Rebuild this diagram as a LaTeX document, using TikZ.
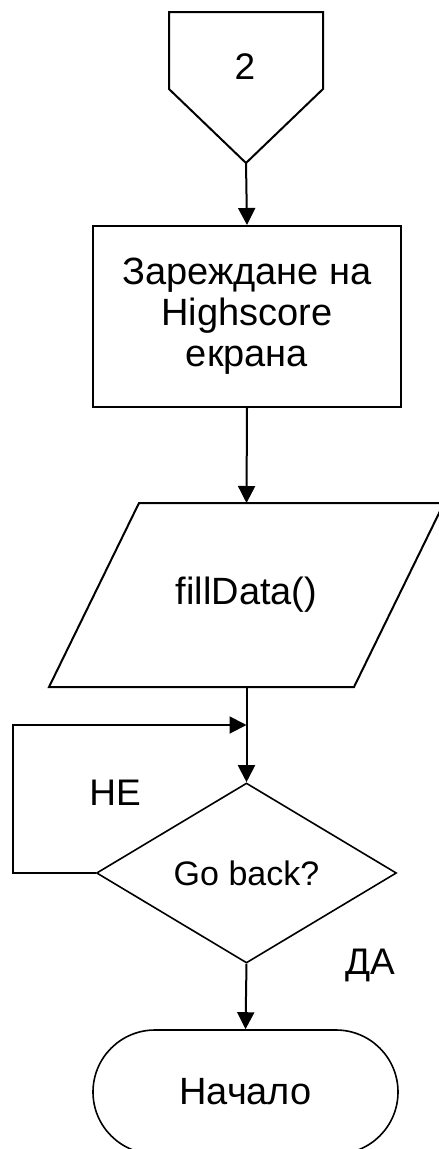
\documentclass[tikz,border=0pt]{standalone}
\usepackage{fontspec}
\setmainfont{Liberation Sans}
\usetikzlibrary{shapes.geometric, arrows.meta}

\begin{document}
\begin{tikzpicture}[
        x=1pt, y=1pt,
        line width=2pt,
        box/.style={rectangle, draw=black, minimum width=308pt, minimum height=181pt, align=center, font=\fontsize{38}{41}\selectfont},
        iobox/.style={rectangle, draw=none, minimum width=303pt, minimum height=182pt, align=center, font=\fontsize{38}{42}\selectfont},
        decbox/.style={diamond, draw=black, line width=1.6pt, minimum width=300pt, minimum height=180pt, inner sep=0pt, align=center, font=\fontsize{34}{40}\selectfont},
        termbox/.style={rectangle, rounded corners=62pt, draw=black, line width=1.6pt, minimum width=305pt, minimum height=124pt, align=center, font=\fontsize{38}{42}\selectfont},
        lbl/.style={font=\fontsize{37}{42}\selectfont},
        arrow/.style={-{Triangle[width=17pt,length=17pt]}, line width=2pt}
    ]
    \useasboundingbox (0,0) rectangle (439,-1149);

    % Off-page connector
    \node[lbl] (conn) at (245,-67) {2};
    \draw (169,-12) -- (323,-12) -- (323,-89) -- (246,-163) -- (169,-89) -- cycle;
    \coordinate (conn-tip) at (246,-163);

    % Process
    \node[box] (load) at (247,-316.5) {Зареждане на\\Highscore\\екрана};

    % Input / output
    \node[iobox] (io) at (246.5,-595) {fillData()};
    \draw ([xshift=45pt]io.north west) -- ([xshift=45pt]io.north east)
        -- ([xshift=-45pt]io.south east) -- ([xshift=-45pt]io.south west) -- cycle;

    % Decision
    \coordinate (join) at (246.5,-725);
    \coordinate (loop-corner) at (13,-725);
    \node[decbox] (goback) at (246.5,-873) {Go back?};
    \node[lbl] (no) at (115,-793) {НЕ};
    \node[lbl] (yes) at (370,-965) {ДА};

    % Terminal
    \node[termbox] (start) at (245.5,-1092) {Начало};

    % Arrows
    \draw[arrow] (conn-tip) -- (load.north);
    \draw[arrow] (load.south) -- (io.north);
    \draw (io.south) -- (join);
    \draw[arrow] (join) -- (goback.north);
    \draw[arrow] (goback.west) -| (loop-corner) -- (join);
    \draw[arrow] (goback.south) -- (start.north);

\end{tikzpicture}
\end{document}
